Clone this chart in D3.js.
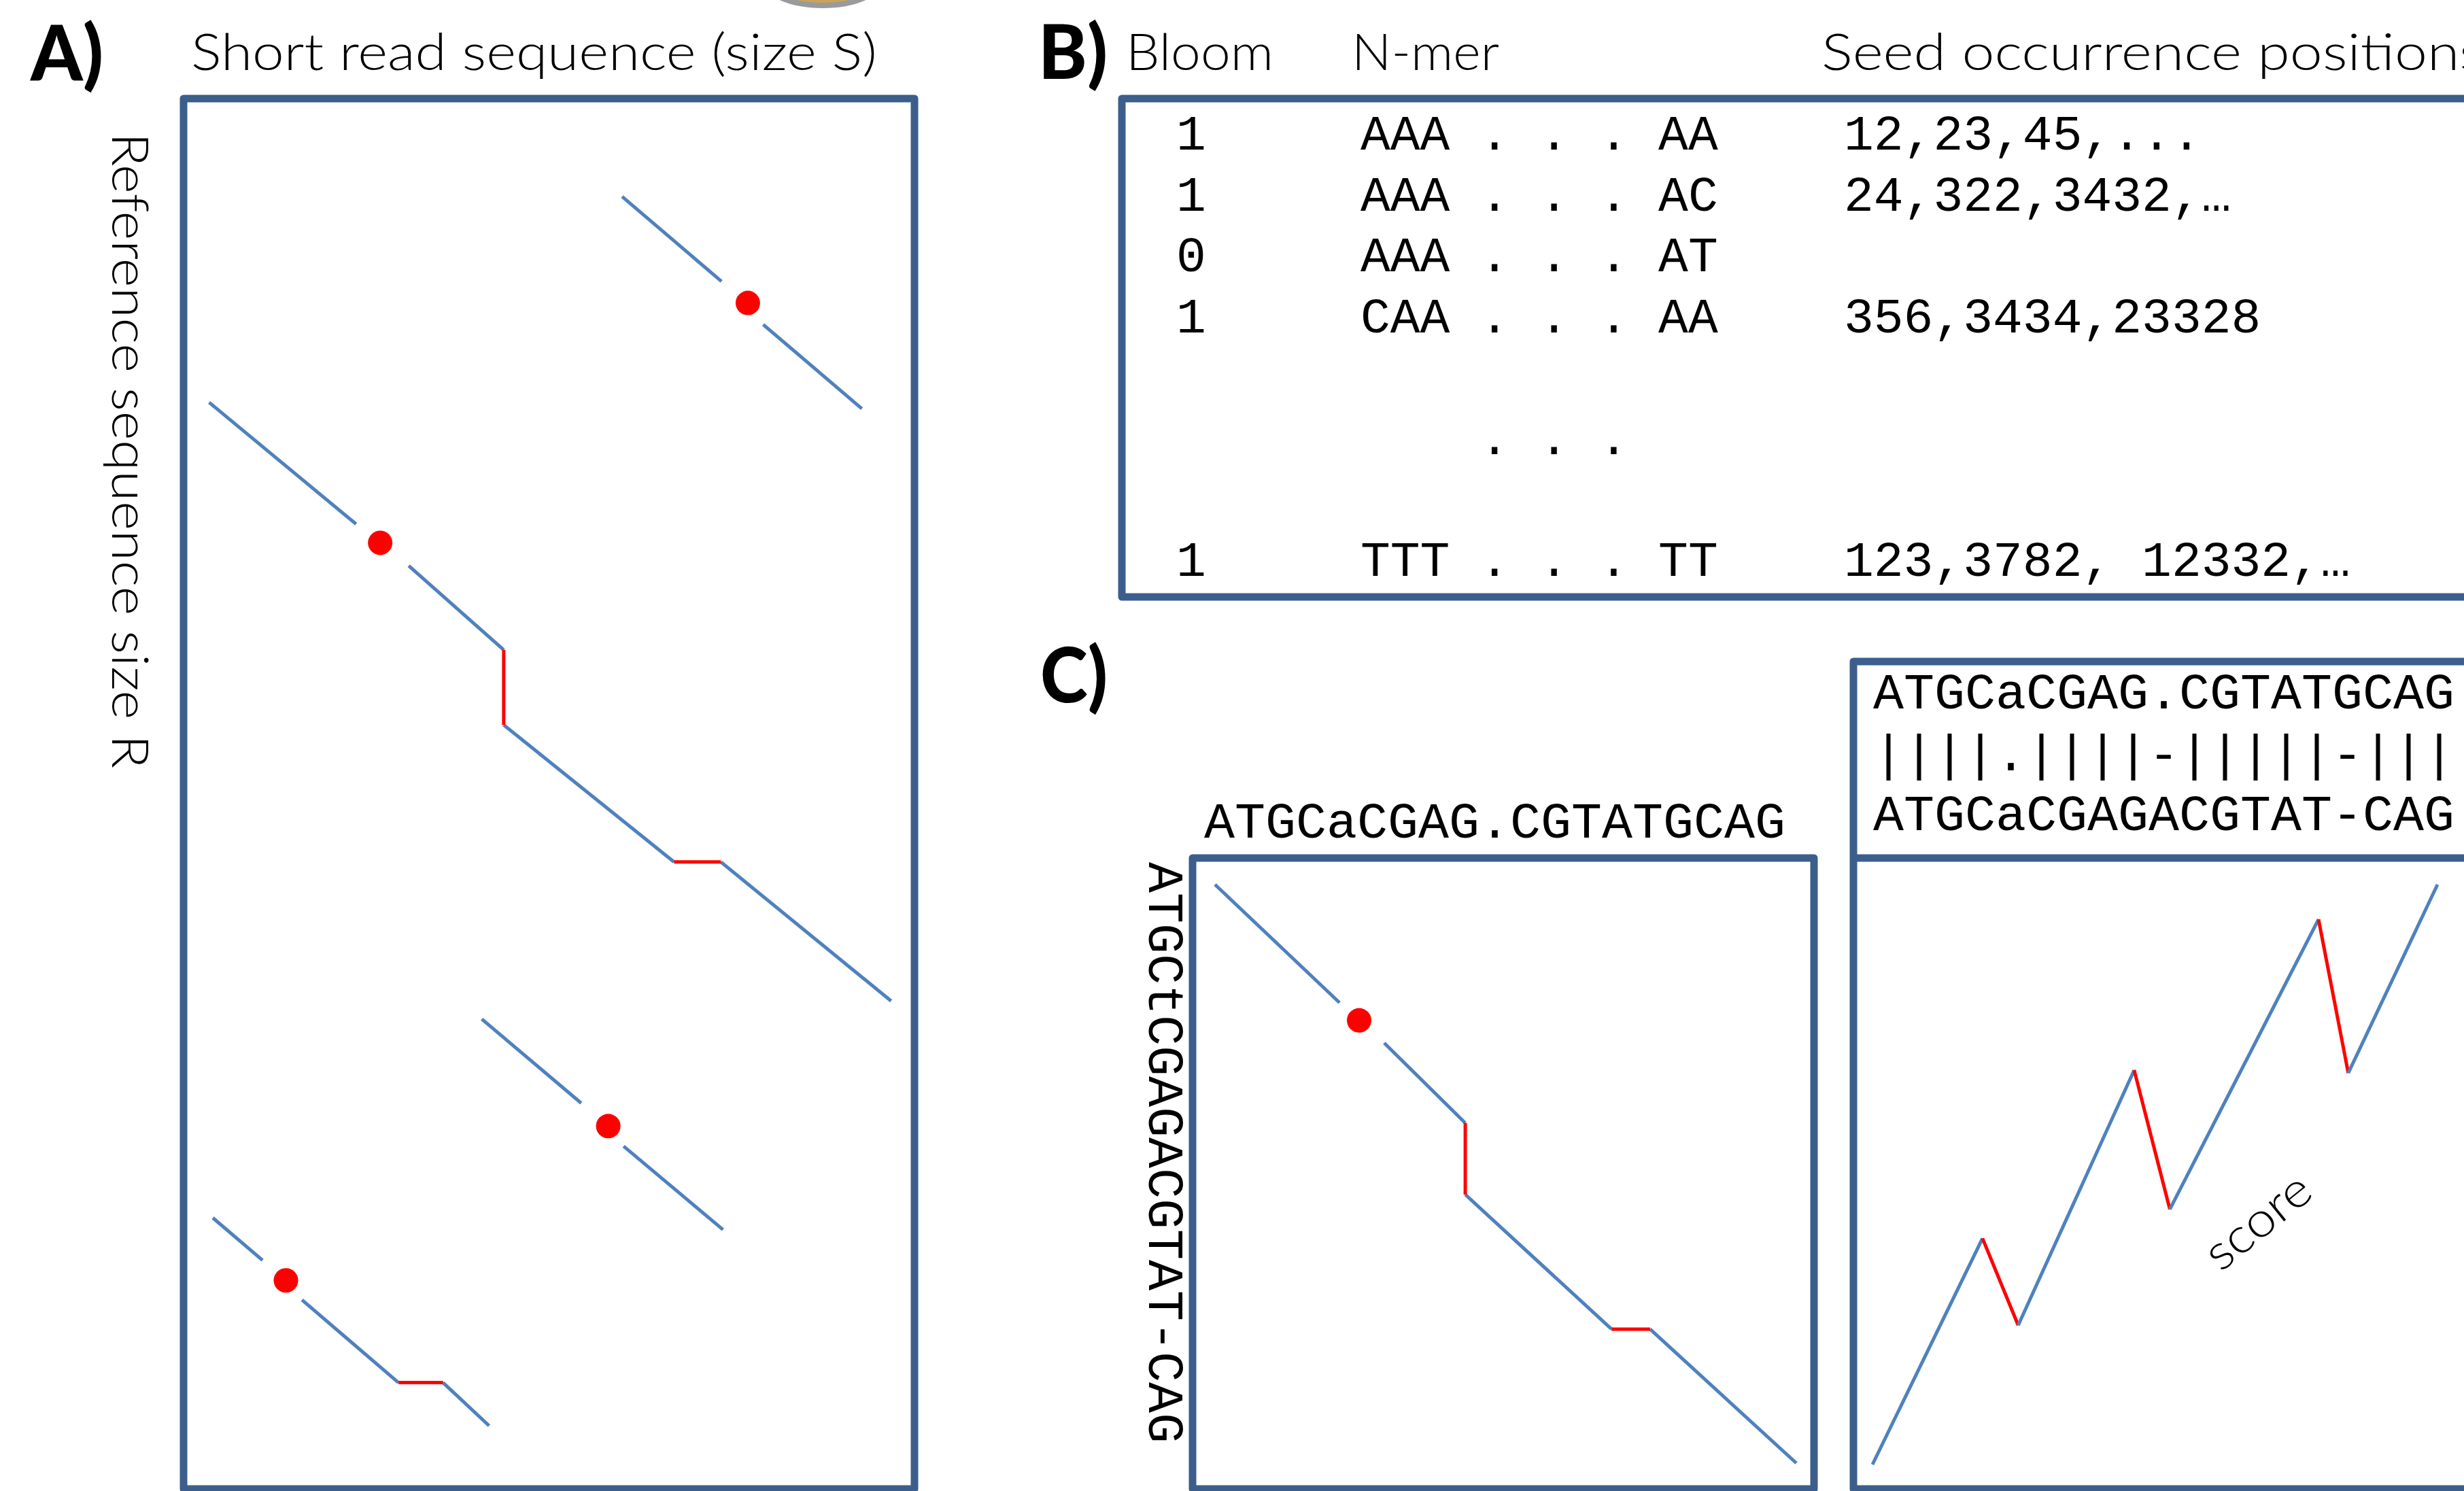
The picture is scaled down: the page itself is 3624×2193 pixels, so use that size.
<!DOCTYPE html>
<html>
<head>
<meta charset="utf-8">
<script src="https://cdn.jsdelivr.net/npm/d3@7"></script>
<style>
  body { margin: 0; background: #fff; }
  .sans { font-family: Lato, "Open Sans", sans-serif; font-weight: 300; fill: #000; }
  .mono { font-family: "Liberation Mono", "Courier New", monospace; fill: #000; }
  .panel { font-family: Lato, "DejaVu Sans", sans-serif; font-weight: 900; fill: #000; }
</style>
</head>
<body>
<div id="viz"></div>
<script>
var W = 3624, H = 2193;
var boxColor = '#3b5e8c', lineColor = '#4f81bd', gapColor = '#ff0000';

// ---- panel A: seed hits of reads along the reference (read units 0-100, ref units 0-200)
var matchA = [
  [60.0, 14.1, 73.6, 26.3], [79.3, 32.5, 92.8, 44.6],
  [3.5, 43.7, 23.6, 61.2], [30.8, 67.2, 43.8, 79.3], [43.8, 90.1, 67.1, 109.8], [73.5, 109.8, 96.8, 129.8],
  [40.8, 132.4, 54.4, 144.5], [60.2, 150.7, 73.8, 162.7],
  [4.0, 161.0, 10.8, 167.1], [16.2, 172.8, 29.4, 184.7], [35.5, 184.7, 41.8, 190.9]
];
var gapA = [
  [43.8, 79.3, 43.8, 90.1], [67.1, 109.8, 73.5, 109.8], [29.4, 184.7, 35.5, 184.7]
];
var seedA = [[77.2, 29.4], [26.9, 63.9], [58.1, 147.8], [14.0, 170.0]];

// ---- panel B: bloom table
var bloomBits = ['1', '1', '0', '1', '1'];
var nmerHead = ['AAA', 'AAA', 'AAA', 'CAA', 'TTT'];
var nmerTail = ['AA', 'AC', 'AT', 'AA', 'TT'];
var seedPositions = ['12,23,45,...', '24,322,3432,\u2026', '', '356,3434,23328', '123,3782, 12332,\u2026'];
var rowIndex = [0, 1, 2, 3, 7];
var skipRow = 5;
var headers = ['Bloom', 'N-mer', 'Seed occurrence positions'];

// ---- panel C: dot plot of read vs reference (character units 0-19)
var readSeq = 'ATGCaCGAG.CGTATGCAG';
var refSeq = 'ATGCtCGAGACGTAT-CAG';
var alignRead = 'ATGCaCGAG.CGTATGCAG';
var alignMarks = '||||.||||-|||||-|||';
var alignRef = 'ATGCaCGAGACGTAT-CAG';
var matchC = [[0, 0, 4.07, 3.88], [5.53, 5.20, 8.18, 7.83], [8.18, 10.18, 12.96, 14.60], [14.22, 14.60, 19, 19]];
var gapC = [[8.18, 7.83, 8.18, 10.18], [12.96, 14.60, 14.22, 14.60]];
var seedC = [[4.71, 4.46]];

// score along alignment columns
var scoreCols = [0, 3.7, 4.9, 8.8, 10.0, 15.0, 16.0, 19];
var scoreVals = [0, 7.8, 4.8, 13.6, 8.8, 18.8, 13.5, 20];

var svg = d3.select('#viz').append('svg')
    .attr('width', W)
    .attr('height', H);

// bit of a figure element cut by the top edge
svg.append('ellipse')
    .attr('cx', 1210).attr('cy', -30).attr('rx', 86).attr('ry', 38)
    .attr('fill', '#c9a45a').attr('stroke', '#9a9a9a').attr('stroke-width', 8);

// ================= Panel A =================
var xA = d3.scaleLinear().domain([0, 100]).range([270, 1345]);
var yA = d3.scaleLinear().domain([0, 200]).range([145, 2190]);

svg.append('text').attr('class', 'panel').text('A)')
    .attr('x', 45).attr('y', 118).attr('font-size', 112)
    .attr('textLength', 107).attr('lengthAdjust', 'spacingAndGlyphs');
svg.append('text').attr('class', 'sans').text('Short read sequence (size S)')
    .attr('x', 281).attr('y', 103).attr('font-size', 74)
    .attr('textLength', 1009).attr('lengthAdjust', 'spacingAndGlyphs');
svg.append('text').attr('class', 'sans').text('Reference sequence size R')
    .attr('transform', 'translate(165,195) rotate(90)')
    .attr('font-size', 74)
    .attr('textLength', 935).attr('lengthAdjust', 'spacingAndGlyphs');

svg.append('rect')
    .attr('x', xA(0)).attr('y', yA(0))
    .attr('width', xA(100) - xA(0)).attr('height', yA(200) - yA(0))
    .attr('fill', 'none').attr('stroke', boxColor).attr('stroke-width', 11)
    .attr('stroke-linejoin', 'round');

function drawSegs(g, segs, color, xs, ys) {
    g.selectAll(null).data(segs).enter().append('line')
        .attr('x1', function(d) { return xs(d[0]); })
        .attr('y1', function(d) { return ys(d[1]); })
        .attr('x2', function(d) { return xs(d[2]); })
        .attr('y2', function(d) { return ys(d[3]); })
        .attr('stroke', color).attr('stroke-width', 5);
}
function drawSeeds(g, pts, xs, ys) {
    g.selectAll(null).data(pts).enter().append('circle')
        .attr('cx', function(d) { return xs(d[0]); })
        .attr('cy', function(d) { return ys(d[1]); })
        .attr('r', 18).attr('fill', gapColor);
}

var gA = svg.append('g');
drawSegs(gA, matchA, lineColor, xA, yA);
drawSegs(gA, gapA, gapColor, xA, yA);
drawSeeds(gA, seedA, xA, yA);

// ================= Panel B =================
var yB = d3.scaleLinear().domain([0, 7]).range([220, 847]);
var monoB = 73, advB = monoB * 0.6;
var colX = [1730, 2001, 2712];
var headX = [1656, 1988, 2679];
var headLen = [217, 217, 975];

svg.append('text').attr('class', 'panel').text('B)')
    .attr('x', 1527).attr('y', 116).attr('font-size', 110)
    .attr('textLength', 102).attr('lengthAdjust', 'spacingAndGlyphs');
svg.selectAll('.head').data(headers).enter().append('text')
    .attr('class', 'sans head')
    .attr('x', function(d, i) { return headX[i]; })
    .attr('y', 103).attr('font-size', 74)
    .attr('textLength', function(d, i) { return headLen[i]; })
    .attr('lengthAdjust', 'spacingAndGlyphs')
    .text(function(d) { return d; });

svg.append('rect')
    .attr('x', 1650).attr('y', 145).attr('width', 2200).attr('height', 733)
    .attr('fill', 'none').attr('stroke', boxColor).attr('stroke-width', 11)
    .attr('stroke-linejoin', 'round');

var rows = svg.append('g').attr('class', 'mono').attr('font-size', monoB)
    .style('white-space', 'pre');
bloomBits.forEach(function(b, i) {
    var y = yB(rowIndex[i]);
    rows.append('text').attr('x', colX[0]).attr('y', y).text(b);
    rows.append('text').attr('x', colX[1]).attr('y', y).attr('xml:space', 'preserve')
        .text(nmerHead[i] + ' . . . ' + nmerTail[i]);
    rows.append('text').attr('x', colX[2]).attr('y', y).attr('xml:space', 'preserve')
        .text(seedPositions[i]);
});
rows.append('text').attr('x', colX[1] + 4 * advB).attr('y', yB(skipRow))
    .attr('xml:space', 'preserve').text('. . .');

// ================= Panel C =================
svg.append('text').attr('class', 'panel').text('C)')
    .attr('x', 1530).attr('y', 1033).attr('font-size', 112)
    .attr('textLength', 99).attr('lengthAdjust', 'spacingAndGlyphs');

var xC = d3.scaleLinear().domain([0, 19]).range([1787, 2642]);
var yC = d3.scaleLinear().domain([0, 19]).range([1301, 2152]);

svg.append('text').attr('class', 'mono').attr('font-size', 75)
    .attr('x', 1771).attr('y', 1232)
    .attr('textLength', 855).attr('lengthAdjust', 'spacingAndGlyphs')
    .text(readSeq);
svg.append('text').attr('class', 'mono').attr('font-size', 75)
    .attr('transform', 'translate(1690,1268) rotate(90)')
    .attr('textLength', 855).attr('lengthAdjust', 'spacingAndGlyphs')
    .text(refSeq);

svg.append('rect')
    .attr('x', 1754).attr('y', 1262).attr('width', 914).attr('height', 928)
    .attr('fill', 'none').attr('stroke', boxColor).attr('stroke-width', 11)
    .attr('stroke-linejoin', 'round');

var gC = svg.append('g');
drawSegs(gC, matchC, lineColor, xC, yC);
drawSegs(gC, gapC, gapColor, xC, yC);
drawSeeds(gC, seedC, xC, yC);

// alignment box
svg.append('rect')
    .attr('x', 2726).attr('y', 973).attr('width', 1100).attr('height', 1217)
    .attr('fill', 'none').attr('stroke', boxColor).attr('stroke-width', 11)
    .attr('stroke-linejoin', 'round');
svg.append('line')
    .attr('x1', 2726).attr('x2', W + 10).attr('y1', 1262).attr('y2', 1262)
    .attr('stroke', boxColor).attr('stroke-width', 11);

var alignLines = [alignRead, alignMarks, alignRef];
var alignY = [1042, 1133, 1221];
svg.selectAll('.aln').data(alignLines).enter().append('text')
    .attr('class', 'mono aln').attr('font-size', 75)
    .attr('x', 2755)
    .attr('y', function(d, i) { return alignY[i]; })
    .attr('textLength', 855).attr('lengthAdjust', 'spacingAndGlyphs')
    .text(function(d) { return d; });

// score curve
var xS = d3.scaleLinear().domain([0, 19]).range([2754, 3585]);
var yS = d3.scaleLinear().domain([0, 20]).range([2154, 1301]);
var scoreSegs = d3.pairs(d3.zip(scoreCols, scoreVals));
svg.append('g').selectAll('line').data(scoreSegs).enter().append('line')
    .attr('x1', function(d) { return xS(d[0][0]); })
    .attr('y1', function(d) { return yS(d[0][1]); })
    .attr('x2', function(d) { return xS(d[1][0]); })
    .attr('y2', function(d) { return yS(d[1][1]); })
    .attr('stroke', function(d) { return d[1][1] < d[0][1] ? gapColor : lineColor; })
    .attr('stroke-width', 5);

svg.append('text').attr('class', 'sans').text('score')
    .attr('transform', 'translate(3266,1872) rotate(-39)')
    .attr('font-size', 72).attr('font-weight', 400)
    .attr('textLength', 180).attr('lengthAdjust', 'spacingAndGlyphs');
</script>
</body>
</html>
